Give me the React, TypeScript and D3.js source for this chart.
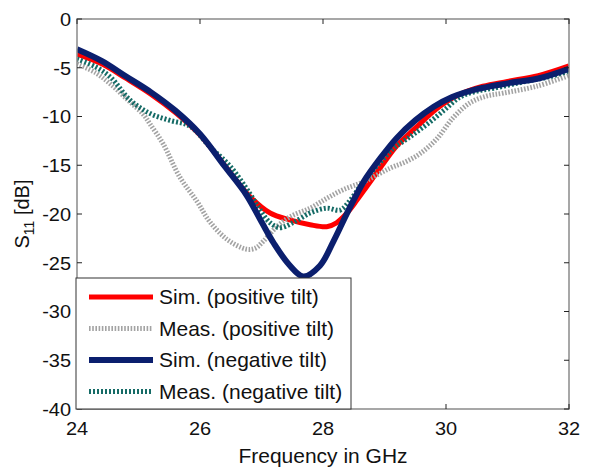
import React from "react";
import * as d3 from "d3";

const simPosF = [24, 24.4, 24.8, 25.2, 25.6, 26.0, 26.4, 26.81, 27.14, 27.46, 27.79, 28.06, 28.22, 28.39, 28.55, 28.71, 28.95, 29.2, 29.5, 29.85, 30.2, 30.6, 31.0, 31.5, 32];
const simPosV = [-3.6, -4.6, -6.1, -7.7, -9.6, -11.9, -15.0, -18.2, -19.9, -20.6, -21.1, -21.3, -20.9, -19.9, -18.6, -17.2, -15.1, -13.0, -11.2, -9.2, -7.8, -6.9, -6.4, -5.8, -4.8];

const measPosF = [24, 24.3, 24.55, 24.86, 25.08, 25.19, 25.4, 25.67, 25.95, 26.16, 26.44, 26.75, 26.9, 27.03, 27.25, 27.46, 27.79, 28.06, 28.33, 28.66, 29.09, 29.36, 29.6, 29.85, 30.12, 30.39, 30.66, 30.93, 31.47, 32];
const measPosV = [-4.6, -5.5, -6.7, -8.5, -9.8, -10.8, -12.8, -16.2, -18.7, -20.8, -22.6, -23.6, -23.5, -22.8, -21.3, -20.3, -19.4, -18.4, -17.5, -16.7, -15.3, -14.6, -13.7, -12.3, -10.1, -8.6, -7.9, -7.6, -6.9, -5.8];

const simNegF = [24, 24.4, 24.8, 25.2, 25.6, 26.0, 26.4, 26.75, 27.0, 27.2, 27.45, 27.68, 27.95, 28.17, 28.4, 28.66, 28.93, 29.2, 29.5, 29.8, 30.1, 30.5, 31.0, 31.5, 32];
const simNegV = [-3.1, -4.3, -5.9, -7.5, -9.4, -11.8, -15.1, -18.0, -20.8, -23.0, -25.2, -26.4, -25.3, -22.8, -19.8, -16.7, -14.3, -12.2, -10.4, -9.0, -8.0, -7.2, -6.6, -6.1, -5.1];

const measNegF = [24, 24.3, 24.55, 24.86, 25.19, 25.51, 25.84, 26.16, 26.49, 26.81, 26.98, 27.14, 27.3, 27.51, 27.79, 28.06, 28.28, 28.44, 28.6, 28.76, 28.93, 29.14, 29.41, 29.69, 29.96, 30.23, 30.5, 30.77, 31.3, 31.7, 32];
const measNegV = [-4.1, -4.9, -6.0, -8.3, -9.7, -10.4, -11.0, -13.1, -15.1, -17.9, -19.6, -20.9, -21.4, -20.9, -19.9, -19.4, -19.6, -18.6, -17.2, -15.9, -14.7, -13.3, -12.1, -10.8, -9.4, -8.0, -7.4, -7.1, -6.4, -5.9, -5.3];

const xTicks = [24, 26, 28, 30, 32];
const yTicks = [0, -5, -10, -15, -20, -25, -30, -35, -40];
const legendLabels = ["Sim. (positive tilt)", "Meas. (positive tilt)", "Sim. (negative tilt)", "Meas. (negative tilt)"];

const W = 594, H = 473;
const L = 77, R = 569, T = 19, B = 409;
const FONT = "'Liberation Sans', Arial, sans-serif";
const SX = 1.05;

export default function App() {
  const x = d3.scaleLinear().domain([24, 32]).range([L, R]);
  const y = d3.scaleLinear().domain([-40, 0]).range([B, T]);
  const line = d3.line<[number, number]>().x(d => x(d[0])).y(d => y(d[1])).curve(d3.curveCatmullRom.alpha(0.5));
  const mk = (f: number[], v: number[]) => line(f.map((fi, i) => [fi, v[i]] as [number, number])) || "";

  const series = [
    { d: mk(simPosF, simPosV), color: "#ff0000", w: 5, dash: undefined as string | undefined },
    { d: mk(measPosF, measPosV), color: "#a3a3a3", w: 5, dash: "1.6 1.6" },
    { d: mk(simNegF, simNegV), color: "#0b1f6e", w: 6, dash: undefined },
    { d: mk(measNegF, measNegV), color: "#156b66", w: 5, dash: "2 2" },
  ];
  const drawOrder = [0, 1, 3, 2];

  const legX = 76, legY = 278, legW = 275, legH = B - 278;
  const rowY = [297, 328.5, 360, 391.5];

  return (
    <svg width={W} height={H} style={{ position: "absolute", left: 0, top: 0, background: "#fff" }} fontFamily={FONT}>
      <rect x={0} y={0} width={W} height={H} fill="#fff" />
      <defs>
        <clipPath id="plotclip">
          <rect x={L} y={T} width={R - L} height={B - T} />
        </clipPath>
      </defs>
      <g clipPath="url(#plotclip)">
        {drawOrder.map(i => (
          <path key={i} d={series[i].d} fill="none" stroke={series[i].color} strokeWidth={series[i].w}
            strokeDasharray={series[i].dash} strokeLinejoin="round" />
        ))}
      </g>
      <rect x={L} y={T} width={R - L} height={B - T} fill="none" stroke="#8a8a8a" strokeWidth={1.5} />
      {xTicks.map(t => (
        <g key={"x" + t}>
          <line x1={x(t)} x2={x(t)} y1={B} y2={B - 5} stroke="#222" strokeWidth={1} />
          <line x1={x(t)} x2={x(t)} y1={T} y2={T + 5} stroke="#222" strokeWidth={1} />
          <text transform={`translate(${x(t)},435) scale(${SX},1)`} textAnchor="middle" fontSize={19} fill="#111">{t}</text>
        </g>
      ))}
      {yTicks.map(t => (
        <g key={"y" + t}>
          <line x1={L} x2={L + 5} y1={y(t)} y2={y(t)} stroke="#222" strokeWidth={1} />
          <line x1={R} x2={R - 5} y1={y(t)} y2={y(t)} stroke="#222" strokeWidth={1} />
          <text transform={`translate(71,${y(t)}) scale(${SX},1)`} dy="0.36em" textAnchor="end" fontSize={19} fill="#111">{t}</text>
        </g>
      ))}
      <text transform={`translate(323,463) scale(${SX},1)`} textAnchor="middle" fontSize={20} fill="#111">Frequency in GHz</text>
      <text transform={`translate(29,${(T + B) / 2}) rotate(-90)`} textAnchor="middle" fontSize={20} fill="#111">
        S<tspan fontSize={14} dy={5}>11</tspan><tspan dy={-5}> [dB]</tspan>
      </text>
      <rect x={legX} y={legY} width={legW} height={legH} fill="#fff" stroke="#333" strokeWidth={1} />
      {legendLabels.map((lab, i) => (
        <g key={lab}>
          <line x1={89} x2={153} y1={rowY[i]} y2={rowY[i]} stroke={series[i].color} strokeWidth={series[i].w}
            strokeDasharray={series[i].dash} />
          <text transform={`translate(159,${rowY[i]}) scale(${SX},1)`} dy="0.36em" fontSize={20} fill="#111">{lab}</text>
        </g>
      ))}
    </svg>
  );
}
